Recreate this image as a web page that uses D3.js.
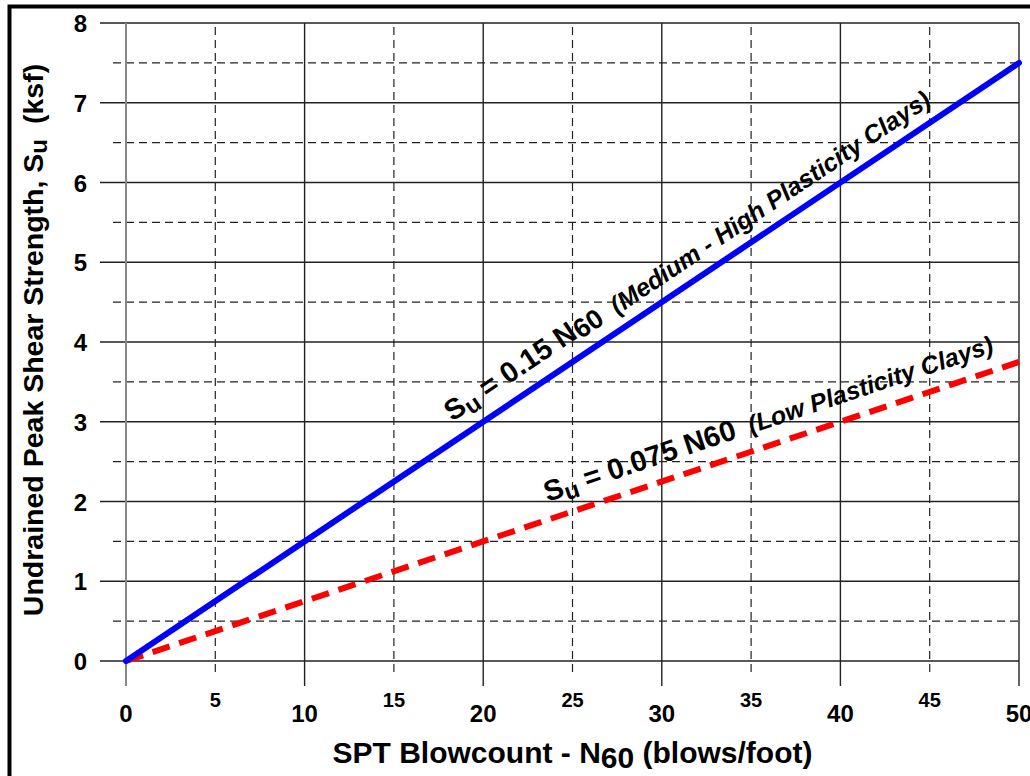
<!DOCTYPE html>
<html>
<head>
<meta charset="utf-8">
<script src="https://cdn.jsdelivr.net/npm/d3@7"></script>
<style>
  body { margin: 0; background: #fff; }
  svg { display: block; font-family: "Liberation Sans", Arial, sans-serif; font-weight: bold; }
</style>
</head>
<body>
<svg width="1030" height="776"></svg>
<script>
// values
const blowcount = [0, 50]
const suHigh = [0, 7.5]     // Su = 0.15 N60
const suLow = [0, 3.75]     // Su = 0.075 N60
const xMajor = [0, 10, 20, 30, 40, 50]
const xMinor = [5, 15, 25, 35, 45]
const yMajor = [0, 1, 2, 3, 4, 5, 6, 7, 8]
const yMinor = [0.5, 1.5, 2.5, 3.5, 4.5, 5.5, 6.5, 7.5]

const margin = {top: 23, right: 11, bottom: 115, left: 126}
const width = 1030
const height = 776

const svg = d3.select('svg')

const x = d3.scaleLinear()
  .domain([0, 50])
  .range([margin.left, width - margin.right])

const y = d3.scaleLinear()
  .domain([0, 8])
  .range([height - margin.bottom, margin.top])

const x0 = x.range()[0], x1 = x.range()[1]
const y0 = y.range()[0], y1 = y.range()[1]

// outer frame
svg.append('rect')
  .attr('x', 9.5).attr('y', 6.5)
  .attr('width', 1040).attr('height', 800)
  .attr('fill', 'none').attr('stroke', '#000').attr('stroke-width', 4)

const grid = svg.append('g').attr('class', 'grid')

// horizontal grid
grid.selectAll('line.hmaj')
  .data(yMajor)
  .join('line')
  .attr('class', 'hmaj')
  .attr('x1', 100).attr('x2', x1)
  .attr('y1', d => y(d)).attr('y2', d => y(d))
  .attr('stroke', '#222').attr('stroke-width', 1.4)

grid.selectAll('line.hmin')
  .data(yMinor)
  .join('line')
  .attr('class', 'hmin')
  .attr('x1', 113).attr('x2', x1)
  .attr('y1', d => y(d)).attr('y2', d => y(d))
  .attr('stroke', '#222').attr('stroke-width', 1.2)
  .attr('stroke-dasharray', '8,5')

// vertical grid
grid.selectAll('line.vmaj')
  .data(xMajor.filter(d => d > 0))
  .join('line')
  .attr('class', 'vmaj')
  .attr('x1', d => x(d)).attr('x2', d => x(d))
  .attr('y1', y1).attr('y2', y0 + 25)
  .attr('stroke', '#222').attr('stroke-width', 1.4)

grid.selectAll('line.vmin')
  .data(xMinor)
  .join('line')
  .attr('class', 'vmin')
  .attr('x1', d => x(d)).attr('x2', d => x(d))
  .attr('y1', y1 + 4).attr('y2', y0 + 12)
  .attr('stroke', '#222').attr('stroke-width', 1.2)
  .attr('stroke-dasharray', '8,5')

// y axis line (gray)
grid.append('line')
  .attr('x1', x(0)).attr('x2', x(0))
  .attr('y1', y1).attr('y2', y0 + 25)
  .attr('stroke', '#888').attr('stroke-width', 2)

// tick labels
svg.append('g')
  .selectAll('text')
  .data(yMajor)
  .join('text')
  .attr('x', 87)
  .attr('y', d => y(d) + 9)
  .attr('text-anchor', 'end')
  .attr('font-size', 24)
  .text(d => d)

svg.append('g')
  .selectAll('text')
  .data(xMajor)
  .join('text')
  .attr('x', d => x(d))
  .attr('y', y0 + 61)
  .attr('text-anchor', 'middle')
  .attr('font-size', 24)
  .text(d => d)

svg.append('g')
  .selectAll('text')
  .data(xMinor)
  .join('text')
  .attr('x', d => x(d))
  .attr('y', y0 + 46)
  .attr('text-anchor', 'middle')
  .attr('font-size', 20)
  .text(d => d)

// lines
const line = d3.line()
  .x(d => x(d[0]))
  .y(d => y(d[1]))

svg.append('path')
  .datum(d3.zip(blowcount, suLow))
  .attr('d', line)
  .attr('fill', 'none')
  .attr('stroke', '#ff0000')
  .attr('stroke-width', 6)
  .attr('stroke-dasharray', '18,10')

svg.append('path')
  .datum(d3.zip(blowcount, suHigh))
  .attr('d', line)
  .attr('fill', 'none')
  .attr('stroke', '#0000ff')
  .attr('stroke-width', 6)
  .attr('stroke-linecap', 'round')

// labels along the lines
function lineLabel(ns, sus, atN, main, sub, note) {
  const p0 = [x(ns[0]), y(sus[0])]
  const p1 = [x(ns[1]), y(sus[1])]
  const ang = Math.atan2(p1[1] - p0[1], p1[0] - p0[0]) * 180 / Math.PI
  const t = atN / ns[1]
  const px = p0[0] + t * (p1[0] - p0[0])
  const py = p0[1] + t * (p1[1] - p0[1])
  const txt = svg.append('text')
    .attr('transform', `translate(${px},${py}) rotate(${ang})`)
    .attr('x', 0).attr('y', -17)
    .attr('font-size', 29)
    .attr('fill', '#000')
  txt.append('tspan').text('S')
  txt.append('tspan').attr('font-size', 24).attr('dy', 5).text('u')
  txt.append('tspan').attr('dy', -5).text(main)
  if (sub) {
    txt.append('tspan').attr('font-size', 27).attr('dy', 3).text(sub)
    txt.append('tspan').attr('dy', -3).text('')
  }
  txt.append('tspan')
    .attr('font-size', 25)
    .attr('font-style', 'italic')
    .attr('dx', 14)
    .text(note)
}

lineLabel(blowcount, suHigh, 18.8, ' = 0.15 N', '60', '(Medium - High Plasticity Clays)')
lineLabel(blowcount, suLow, 23.9, ' = 0.075 N60', null, '(Low Plasticity Clays)')

// axis titles
const xt = svg.append('text')
  .attr('x', (x0 + x1) / 2)
  .attr('y', 763)
  .attr('text-anchor', 'middle')
  .attr('font-size', 30)
xt.append('tspan').text('SPT Blowcount - N')
xt.append('tspan').attr('dy', 5).text('60')
xt.append('tspan').attr('dy', -5).text(' (blows/foot)')

const yt = svg.append('text')
  .attr('transform', 'translate(43, 340) rotate(-90)')
  .attr('text-anchor', 'middle')
  .attr('font-size', 28.5)
yt.append('tspan').text('Undrained Peak Shear Strength, S')
yt.append('tspan').attr('font-size', 24).attr('dy', 4).text('u')
yt.append('tspan').attr('dy', -4).attr('dx', 15).text('(ksf)')
</script>
</body>
</html>
